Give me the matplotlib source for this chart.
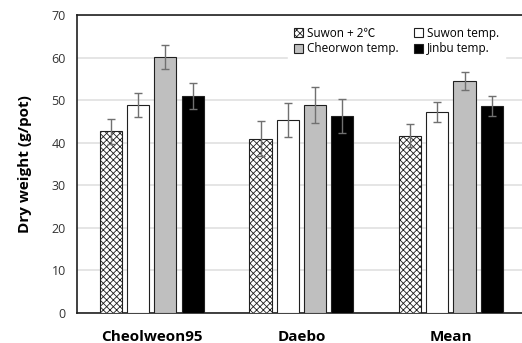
import numpy as np
import matplotlib.pyplot as plt

plt.rcParams['font.family'] = ['Open Sans', 'Noto Sans CJK KR', 'DejaVu Sans']
plt.rcParams['hatch.color'] = '#404040'
plt.rcParams['hatch.linewidth'] = 0.6

# data
groups = ["Cheolweon95", "Daebo", "Mean"]
series = ["Suwon + 2\u2103", "Suwon temp.", "Cheorwon temp.", "Jinbu temp."]
suwon2 = [42.7, 41.0, 41.7]
suwon = [48.9, 45.3, 47.2]
cheorwon = [60.1, 48.8, 54.5]
jinbu = [51.0, 46.3, 48.6]
err_suwon2 = [2.9, 4.2, 2.6]
err_suwon = [2.9, 4.0, 2.3]
err_cheorwon = [2.8, 4.2, 2.2]
err_jinbu = [3.0, 4.0, 2.4]

vals = [suwon2, suwon, cheorwon, jinbu]
errs = [err_suwon2, err_suwon, err_cheorwon, err_jinbu]
faces = ["white", "white", "#bfbfbf", "black"]
hatches = ["xxxxx", None, None, None]

fig = plt.figure(figsize=(5.22, 3.43), dpi=100)
ax = fig.add_axes([0.1475, 0.0875, 0.8525, 0.8685])

x = np.arange(len(groups))
w = 0.148
pitch = 0.182
handles = []
for i in range(4):
    pos = x + (i - 1.5) * pitch
    b = ax.bar(pos, vals[i], w, color=faces[i], edgecolor="#202020", linewidth=0.8,
               hatch=hatches[i], label=series[i], zorder=3)
    handles.append(b)
    ax.errorbar(pos, vals[i], yerr=errs[i], fmt="none", ecolor="#707070",
                elinewidth=1.0, capsize=3, capthick=1.0, zorder=4)

ax.set_xlim(-0.5, 2.475)
ax.set_ylim(0, 70)
ax.set_yticks(range(0, 71, 10))
ax.yaxis.grid(True, color="#e0e0e0", linewidth=1.2, zorder=0)
ax.set_axisbelow(True)
ax.tick_params(axis="y", length=0, labelsize=9, labelcolor="#333333", pad=8)
ax.tick_params(axis="x", length=0, labelsize=11, pad=12)
ax.set_xticks(x)
ax.set_xticklabels(groups, fontweight="bold")
for s in ["left", "bottom", "top"]:
    ax.spines[s].set_linewidth(1.2)
    ax.spines[s].set_color("#202020")
ax.spines["right"].set_visible(False)

ax.set_ylabel("Dry weight (g/pot)", fontsize=11, fontweight="bold", labelpad=14)

order = [0, 2, 1, 3]
leg = ax.legend([handles[k] for k in order], [series[k] for k in order],
                ncol=2, loc="upper right", bbox_to_anchor=(0.975, 1.0),
                frameon=True, fancybox=False, edgecolor="white", framealpha=1,
                fontsize=8.5, handlelength=0.8, handleheight=0.8,
                handletextpad=0.3, columnspacing=1.3, labelspacing=0.2,
                borderpad=0.5)
leg.set_zorder(5)

fig.savefig("out.png", dpi=100)
